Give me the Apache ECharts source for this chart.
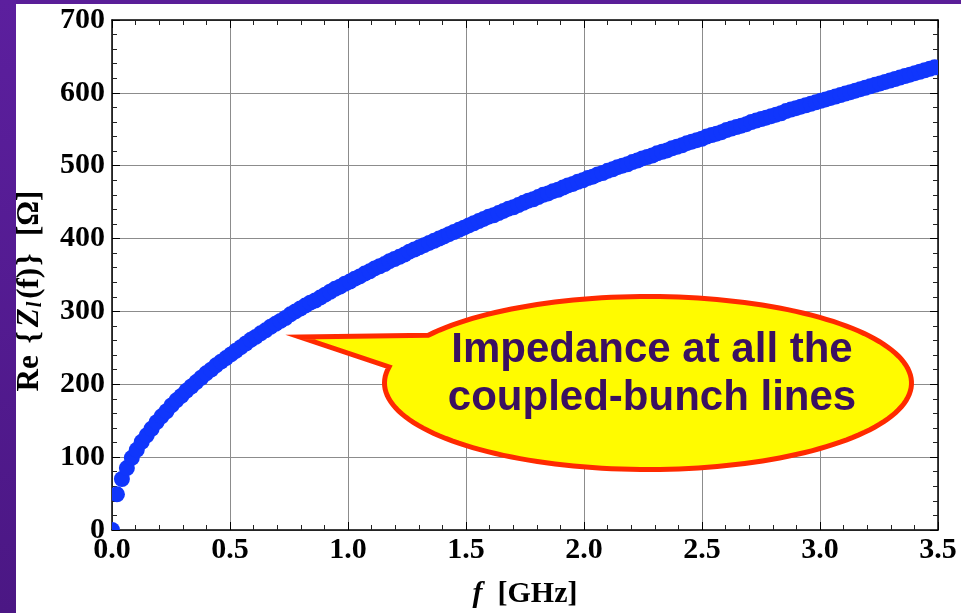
<!DOCTYPE html>
<html>
<head>
<meta charset="utf-8">
<script src="https://cdn.jsdelivr.net/npm/echarts@6/dist/echarts.min.js"></script>
<style>
  html, body { margin: 0; padding: 0; background: #ffffff; }
  #chart { width: 972px; height: 613px; }
</style>
</head>
<body>
<div id="chart"></div>
<script>
// Coupled-bunch line frequencies [GHz]
const freqGHz = [
  0, 0.021, 0.042, 0.063, 0.084, 0.105, 0.126, 0.147, 0.168, 0.189,
  0.21, 0.231, 0.252, 0.273, 0.294, 0.315, 0.336, 0.357, 0.378, 0.399,
  0.42, 0.441, 0.462, 0.483, 0.504, 0.525, 0.546, 0.567, 0.588, 0.609,
  0.63, 0.651, 0.672, 0.693, 0.714, 0.735, 0.756, 0.777, 0.798, 0.819,
  0.84, 0.861, 0.882, 0.903, 0.924, 0.945, 0.966, 0.987, 1.008, 1.029,
  1.05, 1.071, 1.092, 1.113, 1.134, 1.155, 1.176, 1.197, 1.218, 1.239,
  1.26, 1.281, 1.302, 1.323, 1.344, 1.365, 1.386, 1.407, 1.428, 1.449,
  1.47, 1.491, 1.512, 1.533, 1.554, 1.575, 1.596, 1.617, 1.638, 1.659,
  1.68, 1.701, 1.722, 1.743, 1.764, 1.785, 1.806, 1.827, 1.848, 1.869,
  1.89, 1.911, 1.932, 1.953, 1.974, 1.995, 2.016, 2.037, 2.058, 2.079,
  2.1, 2.121, 2.142, 2.163, 2.184, 2.205, 2.226, 2.247, 2.268, 2.289,
  2.31, 2.331, 2.352, 2.373, 2.394, 2.415, 2.436, 2.457, 2.478, 2.499,
  2.52, 2.541, 2.562, 2.583, 2.604, 2.625, 2.646, 2.667, 2.688, 2.709,
  2.73, 2.751, 2.772, 2.793, 2.814, 2.835, 2.856, 2.877, 2.898, 2.919,
  2.94, 2.961, 2.982, 3.003, 3.024, 3.045, 3.066, 3.087, 3.108, 3.129,
  3.15, 3.171, 3.192, 3.213, 3.234, 3.255, 3.276, 3.297, 3.318, 3.339,
  3.36, 3.381, 3.402, 3.423, 3.444, 3.465, 3.486
];

// Re{Z_l(f)} [Ohm] at each line
const reZOhm = [
  0, 49, 70, 85, 99, 110, 121, 130, 139, 148,
  156, 163, 171, 178, 184, 191, 197, 203, 209, 215,
  220, 226, 231, 236, 241, 246, 251, 256, 261, 265,
  270, 274, 279, 283, 287, 291, 296, 300, 304, 308,
  312, 315, 319, 323, 327, 331, 334, 338, 341, 345,
  348, 352, 355, 359, 362, 365, 369, 372, 375, 378,
  382, 385, 388, 391, 394, 397, 400, 403, 406, 409,
  412, 415, 418, 421, 424, 427, 430, 432, 435, 438,
  441, 443, 446, 449, 452, 454, 457, 460, 462, 465,
  467, 470, 473, 475, 478, 480, 483, 485, 488, 490,
  493, 495, 498, 500, 502, 505, 507, 510, 512, 514,
  517, 519, 521, 524, 526, 528, 531, 533, 535, 537,
  540, 542, 544, 546, 549, 551, 553, 555, 557, 560,
  562, 564, 566, 568, 570, 572, 575, 577, 579, 581,
  583, 585, 587, 589, 591, 593, 595, 597, 599, 601,
  603, 605, 607, 609, 611, 613, 615, 617, 619, 621,
  623, 625, 627, 629, 631, 633, 635
];

const xTickLabels = ['0.0', '0.5', '1.0', '1.5', '2.0', '2.5', '3.0', '3.5'];
const yTickLabels = ['0', '100', '200', '300', '400', '500', '600', '700'];

const calloutLines = ['Impedance at all the', 'coupled-bunch lines'];

const points = freqGHz.map((f, i) => [f, reZOhm[i]]);

const chart = echarts.init(document.getElementById('chart'), null, { renderer: 'canvas' });

const serif = '"Liberation Serif", "DejaVu Serif", serif';
const frameColor = '#000000';
const gridColor = '#8c8c8c';
const dotColor = '#1036fc';

// Speech-bubble outline: ellipse plus a pointed tail to the left
function bubblePoints() {
  const cx = 648, cy = 383, rx = 263.5, ry = 86.5;
  const pts = [[300, 337]];
  const a0 = 213.5 * Math.PI / 180;
  const a1 = (360 + 190.7) * Math.PI / 180;
  const n = 160;
  for (let i = 0; i <= n; i++) {
    const a = a0 + (a1 - a0) * i / n;
    pts.push([cx + rx * Math.cos(a), cy + ry * Math.sin(a)]);
  }
  return pts;
}

function frameAxis(extra) {
  return Object.assign({
    axisLine: { show: true, onZero: false, lineStyle: { color: frameColor, width: 1.5 } },
    axisTick: { show: true, inside: true, length: 8, lineStyle: { color: frameColor, width: 1 } },
    minorTick: { show: true, splitNumber: 5, length: 5, lineStyle: { color: '#222', width: 1 } },
    axisLabel: { show: false },
    splitLine: { show: false }
  }, extra);
}

const option = {
  backgroundColor: '#ffffff',
  animation: false,
  grid: { left: 112, right: 34, top: 20, bottom: 83, outerBoundsMode: 'none' },
  xAxis: [
    frameAxis({
      type: 'value', position: 'bottom', min: 0, max: 3.5, interval: 0.5,
      splitLine: { show: true, lineStyle: { color: gridColor, width: 1 } },
      axisLabel: {
        show: true, margin: 5, color: '#000', fontSize: 30, fontWeight: 'bold', fontFamily: serif,
        formatter: (v) => xTickLabels[Math.round(v / 0.5)]
      },
      name: '{i|f}  [GHz]',
      nameLocation: 'middle',
      nameGap: 49,
      nameTextStyle: {
        color: '#000', fontSize: 30, fontWeight: 'bold', fontFamily: serif,
        rich: { i: { fontStyle: 'italic', fontSize: 30, fontWeight: 'bold', fontFamily: serif, color: '#000' } }
      }
    }),
    frameAxis({ type: 'value', position: 'top', min: 0, max: 3.5, interval: 0.5 })
  ],
  yAxis: [
    frameAxis({
      type: 'value', position: 'left', min: 0, max: 700, interval: 100,
      splitLine: { show: true, lineStyle: { color: gridColor, width: 1 } },
      axisLabel: {
        show: true, margin: 7, color: '#000', fontSize: 30, fontWeight: 'bold', fontFamily: serif,
        formatter: (v) => yTickLabels[Math.round(v / 100)]
      }
    }),
    frameAxis({ type: 'value', position: 'right', min: 0, max: 700, interval: 100 })
  ],
  graphic: [
    // purple slide border
    {
      type: 'rect', left: 0, top: 0, z: 0, silent: true,
      shape: { width: 16, height: 613 },
      style: {
        fill: new echarts.graphic.LinearGradient(0, 0, 0, 1, [
          { offset: 0, color: '#5c1f9e' },
          { offset: 1, color: '#4b1784' }
        ])
      }
    },
    {
      type: 'rect', left: 16, top: 0, z: 0, silent: true,
      shape: { width: 945, height: 4 },
      style: { fill: '#5a1e98' }
    },
    // vertical axis title
    {
      type: 'text', x: 30, y: 291, rotation: Math.PI / 2, z: 10, silent: true,
      style: {
        text: '{s|Re} {s|{}{z|Z}{l|l}{s|(f)}}  {s|[Ω]}',
        fill: '#000', font: 'bold 31px ' + serif,
        align: 'center', verticalAlign: 'middle',
        rich: {
          s: { fontWeight: 'bold', fontSize: 31, fontFamily: serif, fill: '#000', padding: [0, 2, 0, 2] },
          z: { fontStyle: 'italic', fontWeight: 'bold', fontSize: 31, fontFamily: serif, fill: '#000', padding: [0, 1, 0, 2] },
          l: { fontStyle: 'italic', fontWeight: 'bold', fontSize: 20, fontFamily: serif, fill: '#000', verticalAlign: 'bottom', padding: [12, 1, 0, 0] }
        }
      }
    },
    // callout bubble
    {
      type: 'polygon', z: 20, silent: true,
      shape: { points: bubblePoints() },
      style: { fill: '#fffb00', stroke: '#ff2a00', lineWidth: 5, lineJoin: 'miter', miterLimit: 20 }
    },
    {
      type: 'text', x: 652, y: 374, z: 21, silent: true,
      style: {
        text: calloutLines.join('\n'),
        fill: '#3a1060',
        font: 'bold 42px "Liberation Sans", Arial, sans-serif',
        lineHeight: 48,
        align: 'center', verticalAlign: 'middle'
      }
    }
  ],
  series: [
    {
      type: 'custom',
      coordinateSystem: 'cartesian2d',
      clip: true,
      z: 5,
      encode: { x: 0, y: 1 },
      data: points,
      renderItem: (params, api) => {
        const p = api.coord([api.value(0), api.value(1)]);
        return {
          type: 'circle',
          shape: { cx: p[0], cy: p[1], r: 8 },
          style: { fill: dotColor }
        };
      }
    }
  ]
};

chart.setOption(option);
</script>
</body>
</html>
